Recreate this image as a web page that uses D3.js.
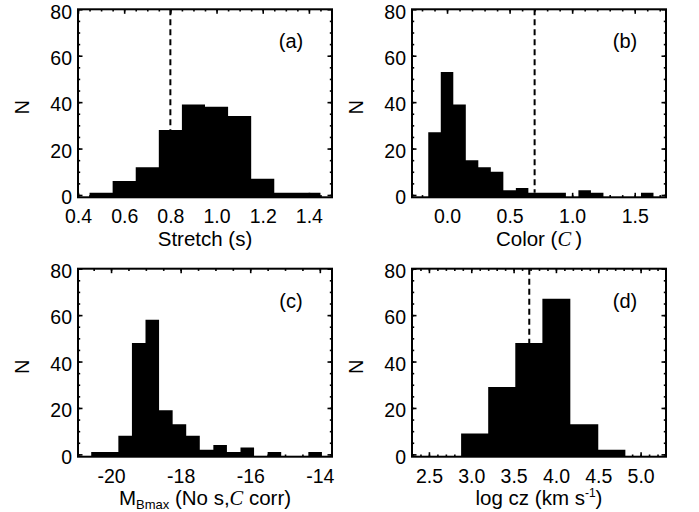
<!DOCTYPE html>
<html>
<head>
<meta charset="utf-8">
<script src="https://cdn.jsdelivr.net/npm/d3@7"></script>
<style>
  body { margin: 0; background: #fff; }
  text { font-family: "Liberation Sans", Arial, Helvetica, sans-serif; fill: #000; }
  .frame { fill: none; stroke: #000; stroke-width: 2; }
  .tick line { stroke: #000; stroke-width: 1.6; }
  .domain { display: none; }
</style>
</head>
<body>
<svg id="chart" width="699" height="512"></svg>
<script>
// y axis shared by all panels
const yTicks = [0, 20, 40, 60, 80];

// (a) stretch
const stretchEdges = [0.45, 0.55, 0.65, 0.75, 0.85, 0.95, 1.05, 1.15, 1.25, 1.35, 1.45];
const stretchCounts = [1, 6, 12, 28, 39, 38, 34, 7, 1, 1];
const stretchTicks = [0.4, 0.6, 0.8, 1.0, 1.2, 1.4];
const stretchCut = 0.8;

// (b) color
const colorEdges = [-0.15, -0.05, 0.05, 0.15, 0.25, 0.35, 0.45, 0.55, 0.65, 0.75, 0.85, 0.95, 1.05, 1.15, 1.25, 1.35, 1.45, 1.55, 1.65];
const colorCounts = [27, 53, 39, 15, 12, 10, 2, 3, 1, 1, 1, 0, 2, 1, 0, 0, 0, 1];
const colorTicks = [0.0, 0.5, 1.0, 1.5];
const colorCut = 0.7;

// (c) M_Bmax
const magEdges = [-20.57, -20.18, -19.79, -19.40, -19.01, -18.62, -18.23, -17.84, -17.45, -17.06, -16.67, -16.28, -15.89, -15.50, -15.11, -14.72, -14.33, -13.94];
const magCounts = [1, 1, 8, 48, 58, 19, 13, 8, 2, 4, 1, 3, 0, 1, 0, 0, 1];
const magTicks = [-20, -18, -16, -14];

// (d) log cz
const czEdges = [2.88, 3.20, 3.52, 3.84, 4.17, 4.50, 4.82];
const czCounts = [9, 29, 48, 67, 13, 2];
const czTicks = [2.5, 3.0, 3.5, 4.0, 4.5, 5.0];
const czCut = 3.685;

const svg = d3.select("#chart");
const pw = 254, ph = 188;

const panels = [
  { x0: 78,  y0: 9.3,   dom: [0.4, 1.5],       edges: stretchEdges, counts: stretchCounts, ticks: stretchTicks, minor: 0.05, fmt: d3.format(".1f"), cut: stretchCut, tag: "(a)", title: "a" },
  { x0: 412, y0: 9.3,   dom: [-0.28, 1.75],    edges: colorEdges,   counts: colorCounts,   ticks: colorTicks,   minor: 0.1,  fmt: d3.format(".1f"), cut: colorCut,   tag: "(b)", title: "b" },
  { x0: 78,  y0: 268.7, dom: [-20.95, -13.65], edges: magEdges,     counts: magCounts,     ticks: magTicks,     minor: 0.5,  fmt: d => String(d),    cut: null,       tag: "(c)", title: "c" },
  { x0: 412, y0: 268.7, dom: [2.3, 5.3],       edges: czEdges,      counts: czCounts,      ticks: czTicks,      minor: 0.1,  fmt: d3.format(".1f"), cut: czCut,      tag: "(d)", title: "d" }
];

panels.forEach(p => {
  const g = svg.append("g").attr("transform", `translate(${p.x0},${p.y0})`);
  const x = d3.scaleLinear().domain(p.dom).range([0, pw]);
  const y = d3.scaleLinear().domain([-1, 80]).range([ph, 0]);

  const bins = p.counts.map((c, i) => ({ lo: p.edges[i], hi: p.edges[i + 1], n: c }));

  // histogram as one filled step outline
  const steps = bins.map(b => ({ x: b.lo, n: b.n }));
  steps.push({ x: bins[bins.length - 1].hi, n: bins[bins.length - 1].n });
  const area = d3.area()
    .curve(d3.curveStepAfter)
    .x(d => x(d.x))
    .y0(ph)
    .y1(d => d.n > 0 ? y(d.n) : ph);
  g.append("path")
    .datum(steps)
    .attr("d", area)
    .attr("fill", "#000");

  // dashed cut line, from the top down to the histogram
  if (p.cut !== null) {
    const hit = bins.find(b => p.cut >= b.lo && p.cut < b.hi);
    const top = hit ? y(hit.n) : ph;
    g.append("line")
      .attr("x1", x(p.cut)).attr("x2", x(p.cut))
      .attr("y1", 0).attr("y2", top)
      .attr("stroke", "#000")
      .attr("stroke-width", 2)
      .attr("stroke-dasharray", "6,4");
  }

  const minorX = d3.range(Math.ceil(p.dom[0] / p.minor) * p.minor, p.dom[1], p.minor);
  const minorY = d3.range(0, 80, 5);

  // inward ticks on all four sides
  g.append("g").attr("transform", `translate(0,${ph})`)
    .call(d3.axisTop(x).tickValues(minorX).tickSize(2.2).tickFormat(""));
  g.append("g").attr("transform", `translate(0,${ph})`)
    .call(d3.axisTop(x).tickValues(p.ticks).tickSize(4.5).tickFormat(""));
  g.append("g")
    .call(d3.axisBottom(x).tickValues(minorX).tickSize(2.2).tickFormat(""));
  g.append("g")
    .call(d3.axisBottom(x).tickValues(p.ticks).tickSize(4.5).tickFormat(""));
  g.append("g")
    .call(d3.axisRight(y).tickValues(minorY).tickSize(2.2).tickFormat(""));
  g.append("g")
    .call(d3.axisRight(y).tickValues(yTicks).tickSize(4.5).tickFormat(""));
  g.append("g").attr("transform", `translate(${pw},0)`)
    .call(d3.axisLeft(y).tickValues(minorY).tickSize(2.2).tickFormat(""));
  g.append("g").attr("transform", `translate(${pw},0)`)
    .call(d3.axisLeft(y).tickValues(yTicks).tickSize(4.5).tickFormat(""));

  // tick labels
  const xl = g.append("g").attr("transform", `translate(0,${ph})`)
    .call(d3.axisBottom(x).tickValues(p.ticks).tickSize(0).tickPadding(0).tickFormat(p.fmt));
  xl.selectAll("text").attr("y", 26).attr("dy", null).style("font-size", "19.5px");

  const yl = g.append("g")
    .call(d3.axisLeft(y).tickValues(yTicks).tickSize(0).tickPadding(6));
  yl.selectAll("text").attr("dy", "0.45em").style("font-size", "19.5px");

  g.selectAll(".tick text").attr("font-family", null);

  g.append("rect").attr("class", "frame").attr("width", pw).attr("height", ph);

  // panel tag
  g.append("text")
    .attr("x", pw - 41).attr("y", 39)
    .attr("text-anchor", "middle")
    .style("font-size", "20px")
    .text(p.tag);

  // N label
  g.append("text")
    .attr("transform", `translate(-56,${ph / 2 + 4}) rotate(-90)`)
    .attr("text-anchor", "middle")
    .attr("dy", "0.35em")
    .style("font-size", "20px")
    .text("N");

  // x title
  const t = g.append("text")
    .attr("x", pw / 2).attr("y", ph + 48.5)
    .attr("text-anchor", "middle")
    .style("font-size", "20.5px");
  if (p.title === "a") {
    t.text("Stretch (s)");
  } else if (p.title === "b") {
    t.append("tspan").text("Color (");
    t.append("tspan").style("font-family", "'Liberation Serif', serif").style("font-style", "italic").text("C");
    t.append("tspan").text("\u2009)");
  } else if (p.title === "c") {
    t.append("tspan").text("M");
    t.append("tspan").attr("dy", 4).style("font-size", "13px").text("Bmax");
    t.append("tspan").attr("dy", -4).text(" (No s,");
    t.append("tspan").style("font-family", "'Liberation Serif', serif").style("font-style", "italic").text("C");
    t.append("tspan").text(" corr)");
  } else {
    t.append("tspan").text("log cz (km s");
    t.append("tspan").attr("dy", -8).style("font-size", "12px").text("-1");
    t.append("tspan").attr("dy", 8).text(")");
  }
});
</script>
</body>
</html>
